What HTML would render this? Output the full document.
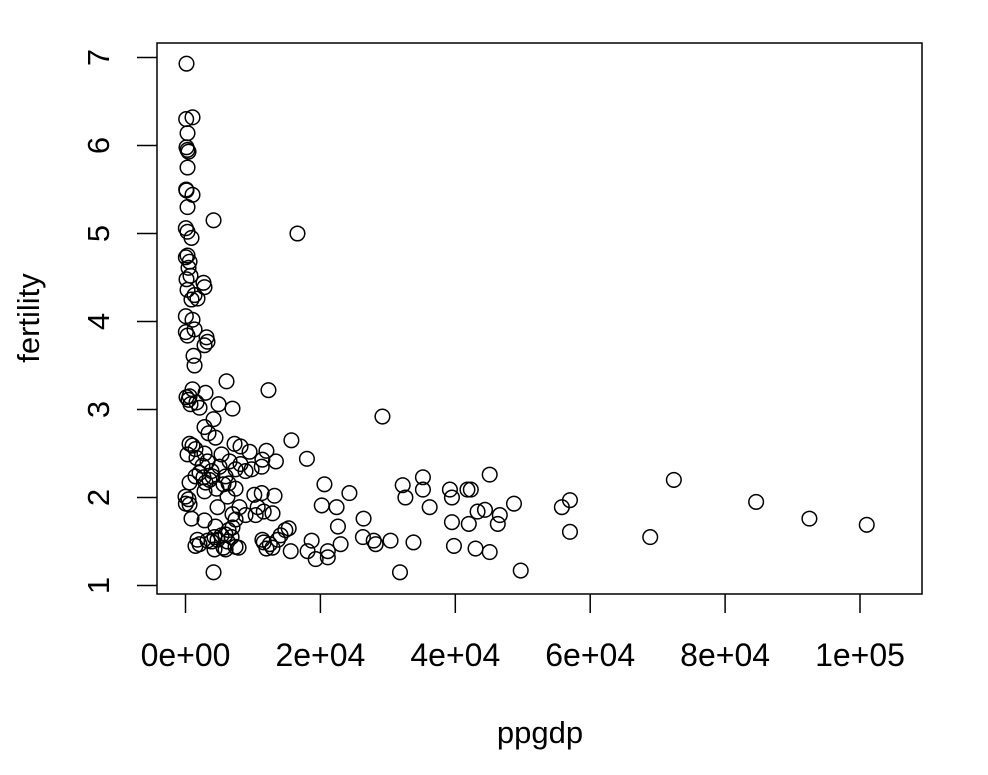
<!DOCTYPE html>
<html><head><meta charset="utf-8"><style>
html,body{margin:0;padding:0;background:#fff;}
svg text{font-family:"Liberation Sans",Arial,sans-serif;fill:#000;}
</style></head><body>
<svg id="chart" width="988" height="770" viewBox="0 0 988 770" xmlns="http://www.w3.org/2000/svg">
<rect x="157" y="43" width="765" height="551" fill="none" stroke="#000" stroke-width="1.5"/>
<g id="xaxis"></g>
<g id="yaxis"></g>
<g id="points"></g>
<text x="540" y="743" font-size="31" text-anchor="middle">ppgdp</text>
<text transform="translate(39,318) rotate(-90)" font-size="31" text-anchor="middle">fertility</text>
</svg>
<script>
// ppgdp (thousands of US$)
const ppgdpK = [0.15,0.1,1.04,0.3,0.15,0.45,0.3,0.3,0.1,0.15,1.04,0.3,0.05,0.3,4.16,0.89,16.6,0.05,0.3,0.6,0.45,0.15,0.74,0.3,1.34,1.78,0.89,2.67,2.82,0.05,1.04,1.34,0.05,0.3,3.12,3.26,2.82,1.19,1.34,6.08,12.3,1.04,0.6,0.45,0.15,0.74,2.08,1.63,2.97,6.97,4.9,29.2,4.16,2.82,3.41,4.45,15.7,7.27,0.6,1.04,1.48,0.3,12.0,8.16,9.5,2.82,5.34,3.26,1.63,2.52,5.05,6.53,8.16,9.8,18.0,11.4,11.3,13.4,7.42,8.9,2.08,3.86,5.94,45.1,72.4,35.2,1.48,2.67,0.6,2.97,3.56,4.0,32.2,20.6,39.2,35.2,41.8,42.3,5.64,6.38,7.42,0.0,0.45,24.3,2.82,4.6,6.23,10.2,13.2,11.3,39.5,32.6,57.0,84.6,0.05,0.6,4.75,8.0,10.7,11.6,12.9,20.2,22.4,48.7,36.2,44.4,43.3,55.8,6.97,8.9,10.4,7.42,0.89,46.6,26.4,92.5,42.0,46.3,101,39.5,22.6,15.3,14.8,4.45,6.38,6.97,57.0,2.82,1.78,3.26,2.08,3.86,11.4,11.6,12.5,14.1,13.7,68.9,5.94,6.83,4.75,4.3,5.34,6.23,18.7,26.3,27.9,30.4,33.8,23.0,28.2,1.48,39.8,43.0,45.1,4.3,5.64,7.42,5.94,7.87,12.0,12.9,18.1,15.6,19.3,21.1,21.1,31.8,49.7,4.16];
const fertility = [6.93,6.30,6.32,6.14,5.98,5.93,5.95,5.75,5.50,5.49,5.44,5.30,5.06,5.02,5.15,4.95,5.0,4.73,4.75,4.68,4.61,4.48,4.52,4.36,4.30,4.26,4.25,4.44,4.39,4.06,4.02,3.91,3.88,3.84,3.82,3.77,3.73,3.61,3.50,3.32,3.22,3.23,3.15,3.11,3.14,3.06,3.02,3.08,3.19,3.01,3.06,2.92,2.89,2.80,2.73,2.68,2.65,2.61,2.61,2.59,2.55,2.49,2.53,2.58,2.52,2.50,2.49,2.41,2.45,2.36,2.35,2.41,2.38,2.32,2.44,2.43,2.35,2.41,2.32,2.30,2.28,2.30,2.24,2.26,2.20,2.23,2.24,2.23,2.17,2.17,2.20,2.24,2.14,2.15,2.09,2.09,2.09,2.09,2.15,2.16,2.10,2.01,1.98,2.05,2.07,2.10,2.01,2.03,2.02,2.05,2.0,2.0,1.97,1.95,1.93,1.92,1.89,1.89,1.89,1.84,1.82,1.91,1.89,1.93,1.89,1.86,1.84,1.89,1.81,1.80,1.80,1.75,1.76,1.80,1.76,1.76,1.70,1.70,1.69,1.72,1.67,1.65,1.63,1.67,1.63,1.66,1.61,1.74,1.52,1.51,1.47,1.50,1.52,1.49,1.47,1.57,1.52,1.55,1.58,1.55,1.52,1.55,1.57,1.50,1.51,1.55,1.51,1.51,1.49,1.47,1.47,1.45,1.45,1.42,1.38,1.41,1.43,1.44,1.41,1.43,1.42,1.43,1.39,1.39,1.30,1.32,1.39,1.15,1.17,1.15];
const xTicks = [0,20000,40000,60000,80000,100000];
const xTickLabels = ["0e+00","2e+04","4e+04","6e+04","8e+04","1e+05"];
const yTicks = [1,2,3,4,5,6,7];

const NS="http://www.w3.org/2000/svg";
function sx(v){return 185.5 + v*674.5/100000;}
function sy(v){return 585.5 - (v-1)*88;}
function mk(tag,attrs,parent){const e=document.createElementNS(NS,tag);for(const k in attrs)e.setAttribute(k,attrs[k]);parent.appendChild(e);return e;}
const xa=document.getElementById('xaxis'), ya=document.getElementById('yaxis'), pg=document.getElementById('points');
xTicks.forEach((t,i)=>{
  const l=mk('line',{x1:sx(t),x2:sx(t),y1:594,y2:613,stroke:'#000','stroke-width':1.5},xa);
  
  
  const tx=mk('text',{x:sx(t),y:666,'font-size':32,'text-anchor':'middle'},xa);
  tx.textContent=xTickLabels[i];
  
  
});
yTicks.forEach(t=>{
  const l=mk('line',{x1:137,x2:157,y1:sy(t),y2:sy(t),stroke:'#000','stroke-width':1.5},ya);
  
  
  const tx=mk('text',{transform:`translate(109,${sy(t)}) rotate(-90)`,'font-size':31,'text-anchor':'middle'},ya);
  tx.textContent=String(t);
  
  
});
ppgdpK.forEach((x,i)=>{
  const c=mk('circle',{cx:sx(x*1000),cy:sy(fertility[i]),r:7.3,fill:'none',stroke:'#000','stroke-width':1.5},pg);
  
  
});
</script>
</body></html>
